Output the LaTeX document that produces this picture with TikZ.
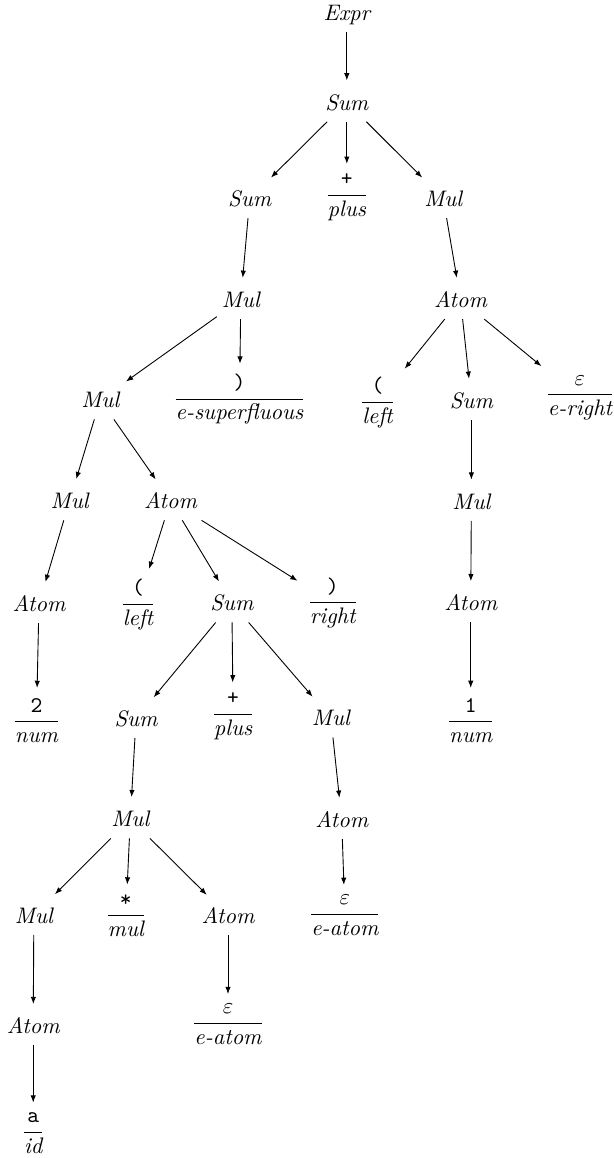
\documentclass[tikz,border=0pt]{standalone}
\usepackage{amsmath}
\usetikzlibrary{arrows.meta}

% a token: lexeme over its kind
\newcommand{\tok}[2]{$\dfrac{\texttt{#1}}{\textit{#2}}$}

\begin{document}
\begin{tikzpicture}[shorten >=1pt,->,>={Latex[length=3.2pt,width=2.4pt]},draw=black]
    \tikzstyle{sym}=[rectangle,inner xsep=2pt,inner ysep=0pt,minimum height=17pt]
    \tikzstyle{nonterm}=[sym,font=\itshape,text height=7pt,text depth=0pt]
    \tikzstyle{term}=[rectangle,inner sep=3.33pt]

    \useasboundingbox (0,0) rectangle (9.60,-18.13);

    % Root and the top sum
    \node[nonterm] (expr) at (5.43,-0.20) {Expr};
    \node[nonterm] (sum-0) at (5.43,-1.60) {Sum};

    % Left operand, operator, right operand
    \node[nonterm] (sum-1) at (3.91,-3.11) {Sum};
    \node[term] (plus-1) at (5.43,-3.09) {\tok{+}{plus}};
    \node[nonterm] (mul-1) at (6.94,-3.11) {Mul};

    \node[nonterm] (mul-2) at (3.77,-4.69) {Mul};
    \node[nonterm] (atom-1) at (7.21,-4.69) {Atom};

    \node[nonterm] (mul-3) at (1.57,-6.26) {Mul};
    \node[term] (rpar-1) at (3.75,-6.25) {\tok{)}{e-superfluous}};
    \node[term] (lpar-1) at (5.91,-6.30) {\tok{(}{left}};
    \node[nonterm] (sum-2) at (7.38,-6.27) {Sum};
    \node[term] (eps-1) at (9.08,-6.23) {\tok{$\varepsilon$}{e-right}};

    \node[nonterm] (mul-4) at (1.09,-7.84) {Mul};
    \node[nonterm] (atom-2) at (2.67,-7.84) {Atom};
    \node[nonterm] (mul-5) at (7.38,-7.85) {Mul};

    \node[nonterm] (atom-3) at (0.61,-9.45) {Atom};
    \node[term] (lpar-2) at (2.16,-9.46) {\tok{(}{left}};
    \node[nonterm] (sum-3) at (3.63,-9.44) {Sum};
    \node[term] (rpar-2) at (5.21,-9.44) {\tok{)}{right}};
    \node[nonterm] (atom-4) at (7.37,-9.44) {Atom};

    \node[term] (num-2) at (0.57,-11.28) {\tok{2}{num}};
    \node[nonterm] (sum-4) at (2.13,-11.25) {Sum};
    \node[term] (plus-2) at (3.65,-11.21) {\tok{+}{plus}};
    \node[nonterm] (mul-6) at (5.18,-11.24) {Mul};
    \node[term] (num-1) at (7.37,-11.28) {\tok{1}{num}};

    \node[nonterm] (mul-7) at (2.04,-12.82) {Mul};
    \node[nonterm] (atom-5) at (5.35,-12.83) {Atom};

    \node[nonterm] (mul-8) at (0.53,-14.33) {Mul};
    \node[term] (star-1) at (1.97,-14.34) {\tok{*}{mul}};
    \node[nonterm] (atom-6) at (3.57,-14.34) {Atom};
    \node[term] (eps-2) at (5.40,-14.33) {\tok{$\varepsilon$}{e-atom}};

    \node[nonterm] (atom-7) at (0.52,-16.06) {Atom};
    \node[term] (eps-3) at (3.57,-16.04) {\tok{$\varepsilon$}{e-atom}};

    \node[term] (id-1) at (0.52,-17.74) {\tok{a}{id}};

    % Connect every parent with its children
    \path (expr) edge (sum-0);
    \path (sum-0) edge (sum-1) edge (plus-1) edge (mul-1);
    \path (sum-1) edge (mul-2);
    \path (mul-1) edge (atom-1);
    \path (mul-2) edge (mul-3) edge (rpar-1);
    \path (atom-1) edge (lpar-1) edge (sum-2) edge (eps-1);
    \path (mul-3) edge (mul-4) edge (atom-2);
    \path (sum-2) edge (mul-5);
    \path (mul-4) edge (atom-3);
    \path (atom-2) edge (lpar-2) edge (sum-3) edge (rpar-2);
    \path (mul-5) edge (atom-4);
    \path (atom-3) edge (num-2);
    \path (sum-3) edge (sum-4) edge (plus-2) edge (mul-6);
    \path (atom-4) edge (num-1);
    \path (sum-4) edge (mul-7);
    \path (mul-6) edge (atom-5);
    \path (mul-7) edge (mul-8) edge (star-1) edge (atom-6);
    \path (atom-5) edge (eps-2);
    \path (mul-8) edge (atom-7);
    \path (atom-6) edge (eps-3);
    \path (atom-7) edge (id-1);
\end{tikzpicture}
\end{document}
